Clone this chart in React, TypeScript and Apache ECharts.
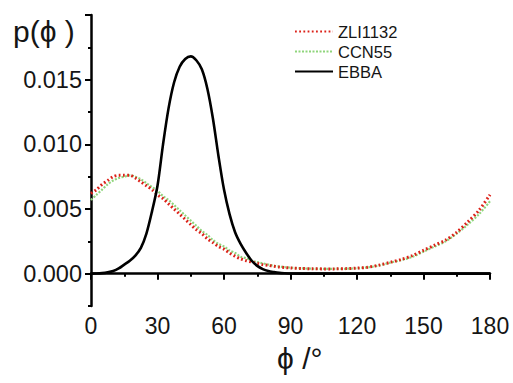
import React, { useEffect, useRef } from "react";
import * as echarts from "echarts";

const phi: number[] = [
  0, 2.5, 5, 7.5, 10, 12.5, 15, 17.5, 20, 22.5, 25, 27.5, 30, 32.5, 35, 37.5, 40, 42.5, 45, 47.5,
  50, 52.5, 55, 57.5, 60, 62.5, 65, 67.5, 70, 72.5, 75, 77.5, 80, 82.5, 85, 87.5, 90,
  95, 100, 105, 110, 115, 120, 125, 130, 135, 140, 145, 150, 155, 160, 165, 170, 175, 180,
];

const zli1132: number[] = [
  0.0062, 0.0065, 0.0069, 0.0072, 0.0075, 0.0076, 0.0076, 0.0076, 0.0074, 0.0071, 0.0068, 0.0065,
  0.0061, 0.0058, 0.0054, 0.005, 0.0046, 0.0042, 0.0038, 0.0034, 0.0031, 0.0027, 0.0024, 0.0021,
  0.0019, 0.0016, 0.00135, 0.00115, 0.001, 0.0009, 0.0008, 0.0007, 0.00064, 0.00057, 0.00051,
  0.00047, 0.00044,
  0.0004, 0.00038, 0.00037, 0.00037, 0.00039, 0.00043, 0.0005, 0.00066, 0.00088, 0.0011, 0.0014,
  0.0018, 0.0022, 0.0026, 0.0032, 0.004, 0.0049, 0.0061,
];

const ccn55: number[] = [
  0.0057, 0.0061, 0.0065, 0.0069, 0.0072, 0.0074, 0.0075, 0.0076, 0.0075, 0.0073, 0.007, 0.0067,
  0.0064, 0.006, 0.0057, 0.0053, 0.0049, 0.0045, 0.0041, 0.0037, 0.0033, 0.003, 0.0026, 0.0023,
  0.0021, 0.0018, 0.0016, 0.0013, 0.0012, 0.001, 0.0009, 0.0008, 0.0007, 0.0006, 0.00055, 0.0005,
  0.00046,
  0.00041, 0.00038, 0.00037, 0.00037, 0.00038, 0.00042, 0.00049, 0.00064, 0.00085, 0.00105, 0.0013,
  0.0017, 0.0021, 0.0025, 0.0031, 0.0038, 0.0046, 0.0056,
];

const ebba: number[] = [
  0, 0.00001, 0.00004, 0.0001, 0.0002, 0.0004, 0.0007, 0.001, 0.0014, 0.002, 0.0031, 0.0048,
  0.0068, 0.01, 0.0128, 0.0148, 0.016, 0.0166, 0.0168, 0.0165, 0.0158, 0.0143, 0.012, 0.0091,
  0.0065, 0.0046, 0.0032, 0.0023, 0.0016, 0.001, 0.0006, 0.00035, 0.0002, 0.00012, 0.00006,
  0.00003, 0.00001,
  0, 0, 0, 0, 0, 0, 0, 0, 0, 0, 0, 0, 0, 0, 0, 0, 0, 0,
];

const xTicks: number[] = [0, 30, 60, 90, 120, 150, 180];
const yMajorTicks: number[] = [0, 0.005, 0.01, 0.015, 0.02];
const yLabels: number[] = [0, 0.005, 0.01, 0.015];

const FONT = "'Liberation Sans', Arial, Helvetica, sans-serif";
const TEXT = "#151515";

const pairs = (ys: number[]) => phi.map((x, i) => [x, ys[i]]);

export default function App() {
  const ref = useRef<HTMLDivElement>(null);
  useEffect(() => {
    document.body.style.margin = "0";
    document.body.style.overflow = "hidden";
    if (!ref.current) return;
    const chart = echarts.init(ref.current, undefined, { renderer: "svg" });
    chart.setOption({
      animation: false,
      backgroundColor: "#ffffff",
      textStyle: { fontFamily: FONT },
      grid: { left: 91, right: 23, top: 15, bottom: 77, containLabel: false, outerBoundsMode: "none" },
      legend: {
        data: ["ZLI1132", "CCN55", "EBBA"],
        orient: "vertical",
        left: 294,
        top: 23,
        padding: 0,
        itemWidth: 38,
        itemHeight: 10,
        itemGap: 3,
        itemStyle: { opacity: 0 },
        textStyle: { fontSize: 16.5, color: TEXT, fontFamily: FONT, lineHeight: 16 },
      },
      xAxis: {
        type: "value",
        min: xTicks[0],
        max: xTicks[xTicks.length - 1],
        interval: 30,
        axisLine: { lineStyle: { color: "#000", width: 2.5 } },
        axisTick: { length: 6, lineStyle: { color: "#000", width: 2 } },
        minorTick: { show: true, splitNumber: 2, length: 3, lineStyle: { color: "#000", width: 2 } },
        splitLine: { show: false },
        axisLabel: { fontSize: 23, color: TEXT, margin: 8, fontFamily: FONT },
      },
      yAxis: [
        {
          type: "value",
          min: -0.0025,
          max: 0.02,
          interval: 0.0025,
          axisLine: { show: true, lineStyle: { color: "#000", width: 2.5 } },
          axisTick: { show: true, length: 3, lineStyle: { color: "#000", width: 2 } },
          splitLine: { show: false },
          axisLabel: {
            fontSize: 23.5,
            color: TEXT,
            margin: 9,
            fontFamily: FONT,
            formatter: (v: number) => {
              const hit = yLabels.find((t) => Math.abs(t - v) < 1e-7);
              return hit === undefined ? "" : hit.toFixed(3);
            },
          },
        },
        {
          type: "value",
          min: -0.0025,
          max: 0.02,
          position: "left",
          axisLine: { show: false },
          axisTick: { show: true, length: 6, customValues: yMajorTicks, lineStyle: { color: "#000", width: 2 } },
          axisLabel: { show: false },
          splitLine: { show: false },
        },
      ],
      series: [
        {
          name: "CCN55",
          type: "line",
          data: pairs(ccn55),
          showSymbol: false,
          symbol: "none",
          smooth: 0.3,
          lineStyle: { color: "#8fd57c", width: 2.2, type: [2, 1.5] },
          itemStyle: { color: "#8fd57c" },
          z: 2,
        },
        {
          name: "ZLI1132",
          type: "line",
          data: pairs(zli1132),
          showSymbol: false,
          symbol: "none",
          smooth: 0.3,
          lineStyle: { color: "#dc2219", width: 3, type: [1.8, 2.4] },
          itemStyle: { color: "#dc2219" },
          z: 3,
        },
        {
          name: "EBBA",
          type: "line",
          data: pairs(ebba),
          showSymbol: false,
          symbol: "none",
          smooth: 0.3,
          lineStyle: { color: "#000000", width: 2.6 },
          itemStyle: { color: "#000000" },
          z: 4,
        },
      ],
      graphic: [
        {
          type: "text",
          left: 13,
          top: 16,
          style: { text: "p(ϕ )", fontSize: 30, fill: TEXT, fontFamily: FONT },
        },
        {
          type: "text",
          left: 277,
          top: 343,
          style: { text: "ϕ /°", fontSize: 30, fill: TEXT, fontFamily: FONT },
        },
      ],
    });
    return () => chart.dispose();
  }, []);
  return <div ref={ref} style={{ width: 513, height: 383 }} />;
}
